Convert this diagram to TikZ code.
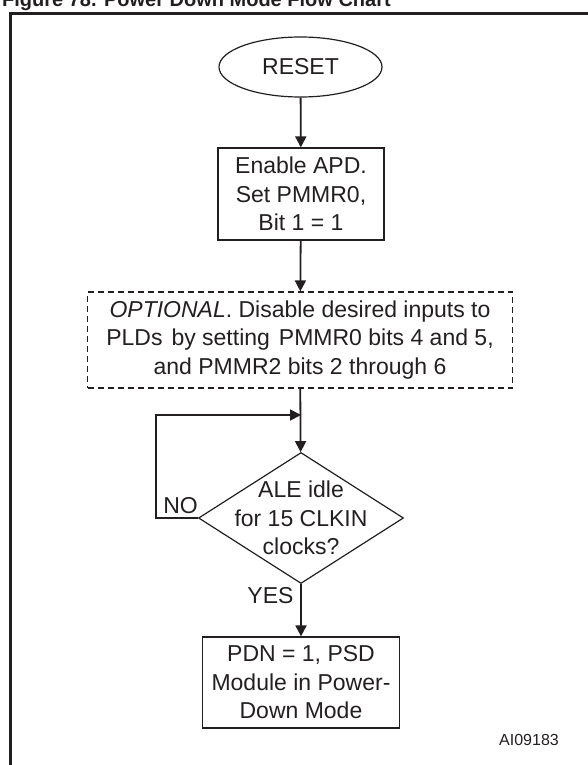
\documentclass[tikz,border=0pt]{standalone}
\usepackage{fontspec}
\setmainfont{Liberation Sans}
\usepackage{tikz}
\usetikzlibrary{arrows.meta,shapes.geometric,positioning}
\definecolor{ink}{RGB}{35,31,32}

\begin{document}
\begin{tikzpicture}[x=1pt, y=-1pt,
    every node/.style={text=ink, font=\fontsize{23}{28.5}\selectfont},
    stepbox/.style={draw=ink, line width=1.2pt, align=center, inner sep=0pt},
    arr/.style={-{Triangle[length=11pt, width=11pt]}, line width=1.8pt, draw=ink}
]
\useasboundingbox (0,0) rectangle (587,765);
% title and frame
\node[anchor=base west, inner sep=0pt, font=\bfseries\fontsize{20}{24}\selectfont] (title) at (2,7) {Figure 78. Power Down Mode Flow Chart};
\draw[ink, line width=3pt] (10,770) -- (10,13.5) -- (592,13.5);

\node[stepbox, ellipse, minimum width=163pt, minimum height=60pt] (reset) at (300.5,67) {RESET};
\node[stepbox, minimum width=166pt, minimum height=92pt] (apd) at (301,194) {Enable APD.\\Set PMMR0,\\Bit 1 = 1};
\node[stepbox, dash pattern=on 6pt off 4pt, minimum width=425pt, minimum height=96pt] (opt) at (300,340) {\textit{OPTIONAL}. Disable desired inputs to\\PLDs\hspace{9pt}by setting\hspace{9pt}PMMR0 bits 4 and 5,\\and PMMR2 bits 2 through 6};
\node[stepbox, diamond, minimum width=205pt, minimum height=131pt] (ale) at (301,518) {};
\node[align=center, inner sep=0pt] (aletext) at (ale.center) {ALE idle\\for 15 CLKIN\\clocks?};
\node[stepbox, minimum width=197pt, minimum height=91pt] (pdn) at (301,682.5) {PDN = 1, PSD\\Module in Power-\\Down Mode};

\coordinate (back) at (156,415);
\coordinate (join) at (301,415);

\draw[arr] (reset) -- (apd);
\draw[arr] (apd) -- (opt);
\draw[arr] (opt) -- (ale);
\draw[arr] (ale.west) -| (back) -- (join);
\draw[arr] (ale) -- (pdn);

\node (no) at (180.5,506) {NO};
\node (yes) at (270.5,596) {YES};
\node[font=\fontsize{16}{19}\selectfont] (code) at (529,740) {AI09183};
\end{tikzpicture}
\end{document}
